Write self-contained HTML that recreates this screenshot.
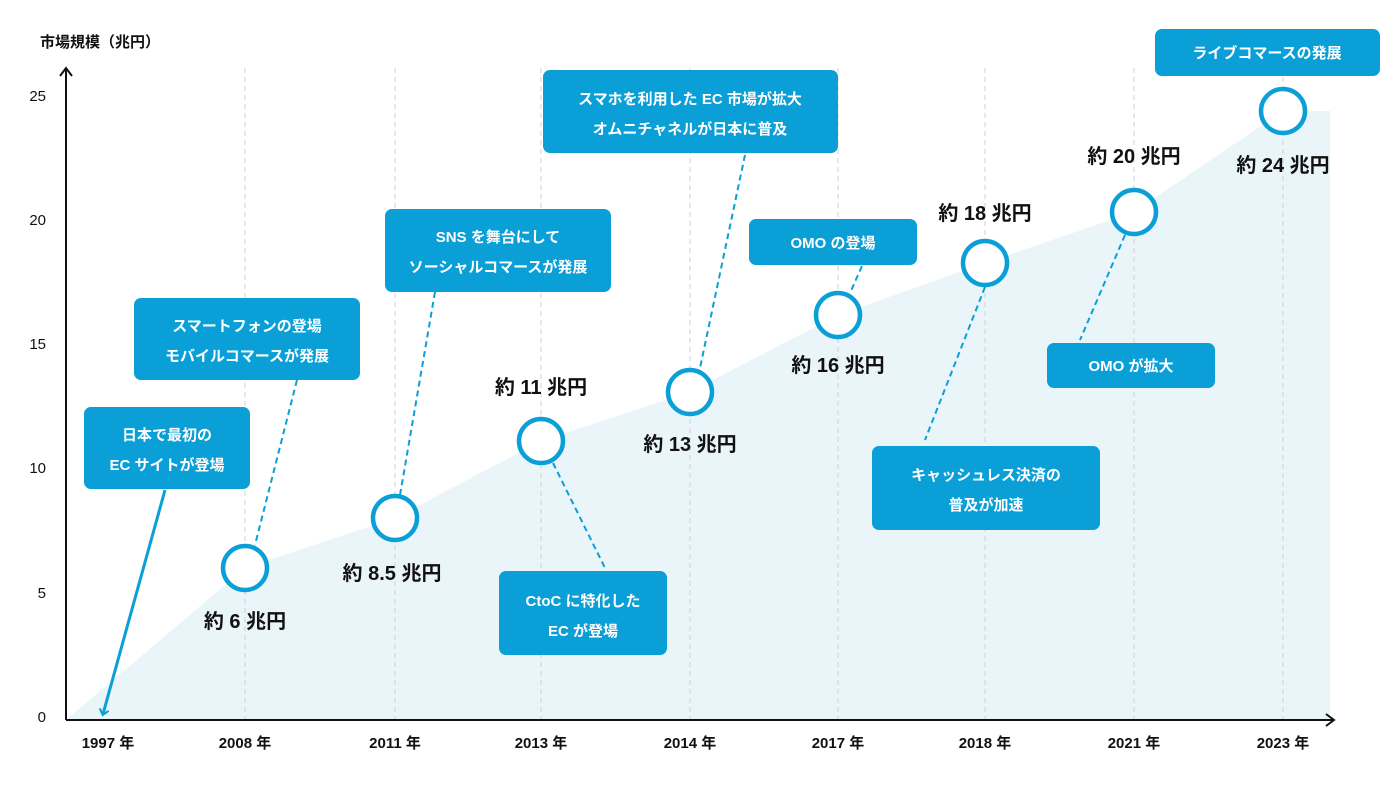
<!DOCTYPE html>
<html><head><meta charset="utf-8"><style>
html,body{margin:0;padding:0;background:#fff;}
svg{display:block;font-family:"Liberation Sans","Noto Sans CJK JP",sans-serif;}
</style></head><body>
<svg width="1400" height="787" viewBox="0 0 1400 787" xmlns="http://www.w3.org/2000/svg">
<defs>
<marker id="ah" markerWidth="10" markerHeight="10" refX="5" refY="5" orient="auto" markerUnits="userSpaceOnUse">
<path d="M0,0 L6,5 L0,10" fill="none" stroke="#0a9fd6" stroke-width="2"/>
</marker>
</defs>
<polygon points="66,720 245,568 395,518 541,441 690,392 838,315 985,263 1134,212 1283,111 1330,111 1330,720" fill="#eaf5fa"/>
<g stroke="#d0d0d0" stroke-width="1" stroke-dasharray="5,4">
<line x1="245" y1="68" x2="245" y2="720"/><line x1="395" y1="68" x2="395" y2="720"/>
<line x1="541" y1="68" x2="541" y2="720"/><line x1="690" y1="68" x2="690" y2="720"/>
<line x1="838" y1="68" x2="838" y2="720"/><line x1="985" y1="68" x2="985" y2="720"/>
<line x1="1134" y1="68" x2="1134" y2="720"/><line x1="1283" y1="68" x2="1283" y2="720"/>
</g>
<g stroke="#111" stroke-width="2" fill="none">
<line x1="66" y1="720" x2="66" y2="68"/><path d="M60,76 L66,68 L72,76"/>
<line x1="66" y1="720" x2="1334" y2="720"/><path d="M1326,714 L1334,720 L1326,726"/>
</g>
<g font-size="15" fill="#111" text-anchor="end">
<text x="46" y="722">0</text><text x="46" y="598">5</text><text x="46" y="473">10</text>
<text x="46" y="349">15</text><text x="46" y="225">20</text><text x="46" y="101">25</text>
</g>
<text x="40" y="47" font-size="15" font-weight="bold" fill="#111">市場規模（兆円）</text>
<g font-size="15" fill="#111" text-anchor="middle" font-weight="bold">
<text x="108" y="748">1997 年</text><text x="245" y="748">2008 年</text><text x="395" y="748">2011 年</text>
<text x="541" y="748">2013 年</text><text x="690" y="748">2014 年</text><text x="838" y="748">2017 年</text>
<text x="985" y="748">2018 年</text><text x="1134" y="748">2021 年</text><text x="1283" y="748">2023 年</text>
</g>
<g stroke="#0a9fd6" stroke-width="2" stroke-dasharray="6,4" fill="none">
<line x1="297" y1="380" x2="255" y2="545"/>
<line x1="435" y1="292" x2="400" y2="495"/>
<line x1="553" y1="463" x2="605" y2="568"/>
<line x1="745" y1="155" x2="700" y2="368"/>
<line x1="862" y1="266" x2="850" y2="293"/>
<line x1="985" y1="287" x2="925" y2="440"/>
<line x1="1125" y1="235" x2="1080" y2="340"/>
</g>
<line x1="165" y1="490" x2="103" y2="714" stroke="#0a9fd6" stroke-width="3" marker-end="url(#ah)"/>
<g fill="#fff" stroke="#0a9fd6" stroke-width="4.5">
<circle cx="245" cy="568" r="22"/><circle cx="395" cy="518" r="22"/><circle cx="541" cy="441" r="22"/>
<circle cx="690" cy="392" r="22"/><circle cx="838" cy="315" r="22"/><circle cx="985" cy="263" r="22"/>
<circle cx="1134" cy="212" r="22"/><circle cx="1283" cy="111" r="22"/>
</g>
<g font-size="20" fill="#111" text-anchor="middle" font-weight="bold">
<text x="245" y="628">約 6 兆円</text><text x="392" y="580">約 8.5 兆円</text>
<text x="541" y="394">約 11 兆円</text><text x="690" y="451">約 13 兆円</text>
<text x="838" y="372">約 16 兆円</text><text x="985" y="220">約 18 兆円</text>
<text x="1134" y="163">約 20 兆円</text><text x="1283" y="172">約 24 兆円</text>
</g>
<g fill="#0a9fd6">
<rect x="84" y="407" width="166" height="82" rx="7"/>
<rect x="134" y="298" width="226" height="82" rx="7"/>
<rect x="385" y="209" width="226" height="83" rx="7"/>
<rect x="499" y="571" width="168" height="84" rx="7"/>
<rect x="543" y="70" width="295" height="83" rx="7"/>
<rect x="749" y="219" width="168" height="46" rx="7"/>
<rect x="872" y="446" width="228" height="84" rx="7"/>
<rect x="1047" y="343" width="168" height="45" rx="7"/>
<rect x="1155" y="29" width="225" height="47" rx="7"/>
</g>
<g font-size="15" fill="#fff" text-anchor="middle" font-weight="bold">
<text x="167" y="440">日本で最初の</text><text x="167" y="470">EC サイトが登場</text>
<text x="247" y="331">スマートフォンの登場</text><text x="247" y="361">モバイルコマースが発展</text>
<text x="498" y="242">SNS を舞台にして</text><text x="498" y="272">ソーシャルコマースが発展</text>
<text x="583" y="606">CtoC に特化した</text><text x="583" y="636">EC が登場</text>
<text x="690" y="104">スマホを利用した EC 市場が拡大</text><text x="690" y="134">オムニチャネルが日本に普及</text>
<text x="833" y="248">OMO の登場</text>
<text x="986" y="480">キャッシュレス決済の</text><text x="986" y="510">普及が加速</text>
<text x="1131" y="371">OMO が拡大</text>
<text x="1267" y="58">ライブコマースの発展</text>
</g>
</svg>
</body></html>
